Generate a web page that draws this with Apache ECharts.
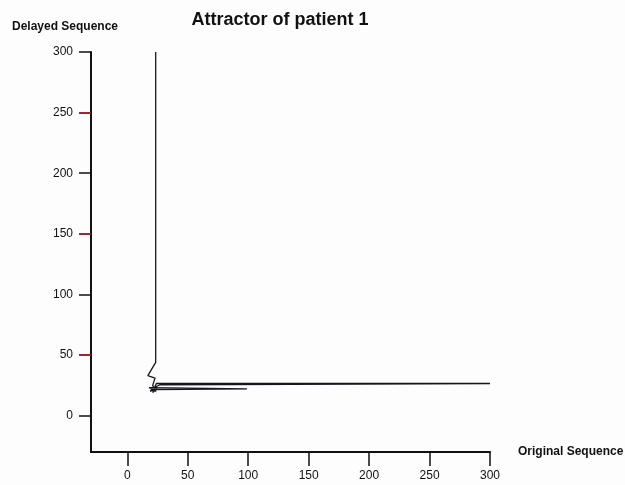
<!DOCTYPE html>
<html>
<head>
<meta charset="utf-8">
<script src="https://cdn.jsdelivr.net/npm/echarts@6/dist/echarts.min.js"></script>
<style>
  html, body { margin: 0; padding: 0; background: #fdfdfd; }
  #chart { width: 625px; height: 485px; }
</style>
</head>
<body>
<div id="chart"></div>
<script>
// tick labels
const xTicks = [0, 50, 100, 150, 200, 250, 300];
const yTicks = [0, 50, 100, 150, 200, 250, 300];
const redTicks = [50, 150, 250];
// attractor path: original sequence (x) vs delayed sequence (y)
const originalSeq = [22, 19, 25, 21, 24, 300, 27, 20, 24, 18, 99, 23, 21, 23, 17, 23.5, 23.5];
const delayedSeq = [24, 20, 23, 19, 26.5, 26.5, 25.5, 22, 20, 23, 22, 21.5, 25, 31, 33, 44, 300];

let chart = echarts.init(document.getElementById("chart"));
let font = "Liberation Sans, Arial, sans-serif";

let option = {
  backgroundColor: "#fdfdfd",
  animation: false,
  title: {
    text: "Attractor of patient 1",
    left: 275,
    textAlign: "center",
    top: 6,
    textStyle: { fontFamily: font, fontSize: 18, fontWeight: "bold", color: "#111" }
  },
  grid: { left: 91, right: 135, top: 52, bottom: 33, outerBoundsMode: "none", containLabel: false },
  xAxis: {
    type: "value",
    min: -30,
    max: 300,
    name: "Original Sequence",
    nameLocation: "end",
    nameGap: 28,
    nameTextStyle: { fontFamily: font, fontSize: 12, fontWeight: "bold", color: "#111" },
    axisLine: { onZero: false, lineStyle: { color: "#111", width: 2 } },
    axisTick: { customValues: xTicks, length: 14, lineStyle: { color: "#111", width: 1.5 } },
    axisLabel: { customValues: xTicks, margin: 18, fontFamily: font, fontSize: 12, color: "#111" },
    splitLine: { show: false }
  },
  yAxis: [
    {
      type: "value",
      min: -30,
      max: 300,
      name: "Delayed Sequence",
      nameLocation: "end",
      nameGap: 19,
      nameTextStyle: { fontFamily: font, fontSize: 12, fontWeight: "bold", color: "#111", padding: [0, 52, 0, 0] },
      axisLine: { onZero: false, lineStyle: { color: "#111", width: 2 } },
      axisTick: { customValues: yTicks, length: 12, lineStyle: { color: "#111", width: 1.5 } },
      axisLabel: { customValues: yTicks, margin: 18, fontFamily: font, fontSize: 12, color: "#111" },
      splitLine: { show: false }
    },
    {
      type: "value",
      min: -30,
      max: 300,
      position: "left",
      axisLine: { show: false, onZero: false },
      axisTick: { show: true, customValues: redTicks, length: 12, lineStyle: { color: "#b3202c", width: 1.5 } },
      axisLabel: { show: false },
      splitLine: { show: false }
    }
  ],
  series: [
    {
      type: "line",
      yAxisIndex: 0,
      symbol: "none",
      data: originalSeq.map((x, i) => [x, delayedSeq[i]]),
      lineStyle: { color: "#16161e", width: 1.3 }
    }
  ]
};
chart.setOption(option);
</script>
</body>
</html>
